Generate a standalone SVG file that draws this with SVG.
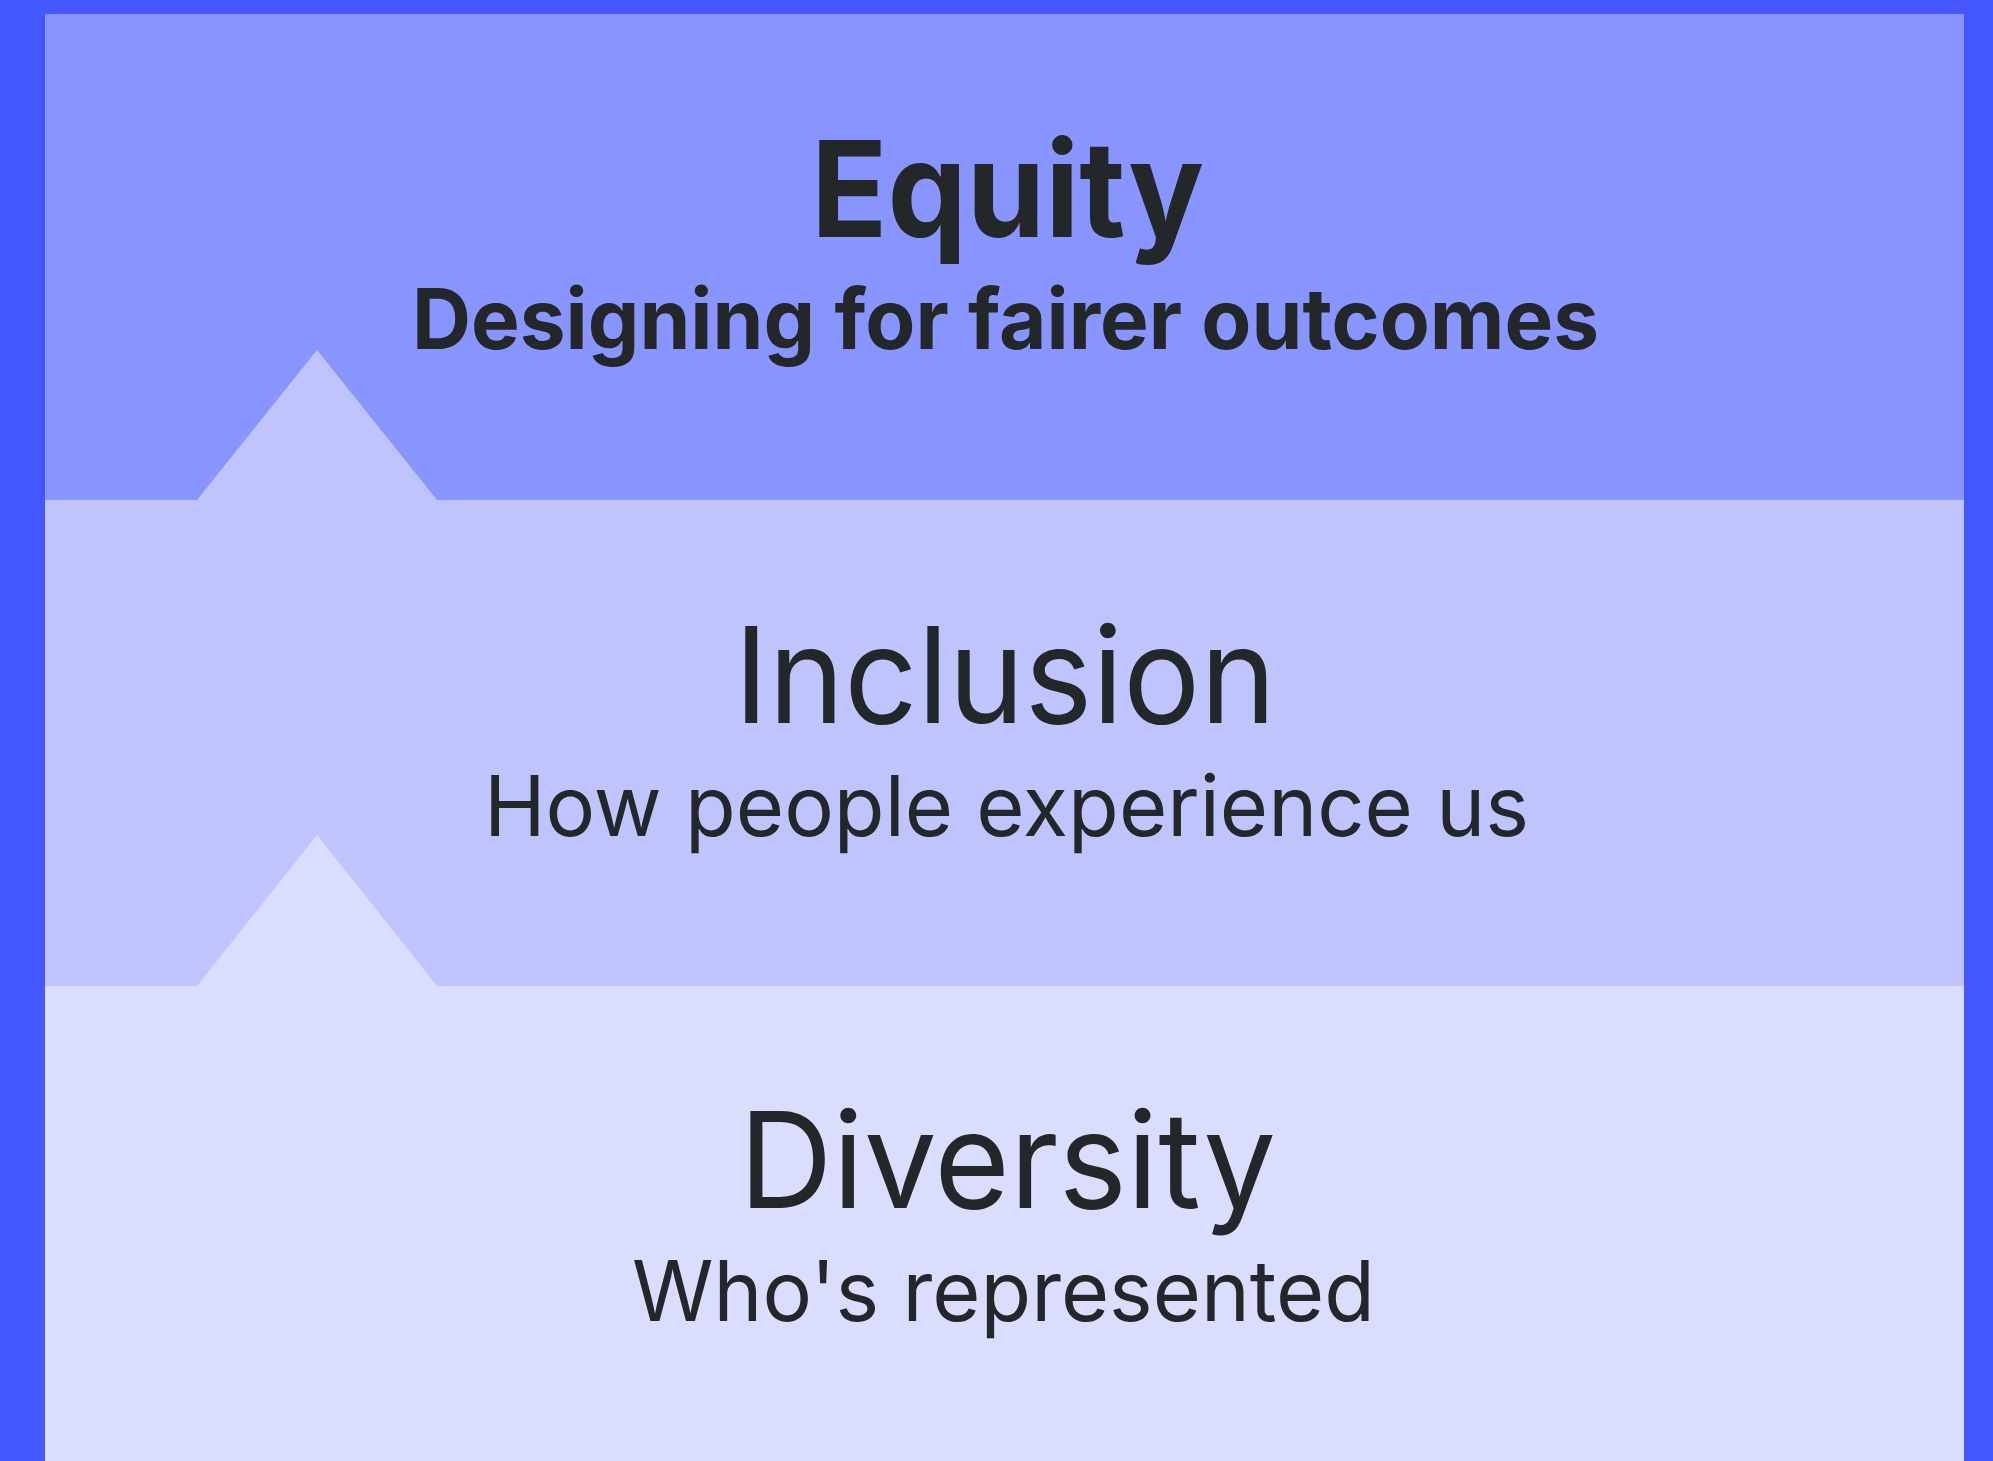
<svg xmlns="http://www.w3.org/2000/svg" width="1993" height="1461" viewBox="0 0 1993 1461">
<style>
.t{font-family:Inter,"Noto Sans","Liberation Sans",sans-serif;fill:#23272A}
.b{font-weight:700}
.r{font-weight:400}
.big{font-size:133px}
.sub{font-size:84px}
</style>
<rect x="0" y="0" width="1993" height="1461" fill="#4558FF"/>
<g id="equity">
<rect x="45" y="14" width="1919" height="486" fill="#8895FF"/>
<text class="t b big" x="811" y="237" textLength="393" lengthAdjust="spacingAndGlyphs">Equity</text>
<text class="t b sub" x="412" y="349" textLength="1187" lengthAdjust="spacingAndGlyphs">Designing for fairer outcomes</text>
</g>
<g id="inclusion">
<path d="M45 500 H197 L317 350 L437 500 H1964 V986 H45 Z" fill="#BFC4FF"/>
<text class="t r big" x="734" y="723" textLength="542" lengthAdjust="spacingAndGlyphs">Inclusion</text>
<text class="t r sub" x="484" y="836" textLength="1045" lengthAdjust="spacingAndGlyphs">How people experience us</text>
</g>
<g id="diversity">
<path d="M45 986 H197 L317 835 L437 986 H1964 V1461 H45 Z" fill="#DADDFF"/>
<text class="t r big" x="739" y="1208" textLength="537" lengthAdjust="spacingAndGlyphs">Diversity</text>
<text class="t r sub" x="632" y="1321" textLength="743" lengthAdjust="spacingAndGlyphs">Who's represented</text>
</g>
<g id="connectors"/>
</svg>
